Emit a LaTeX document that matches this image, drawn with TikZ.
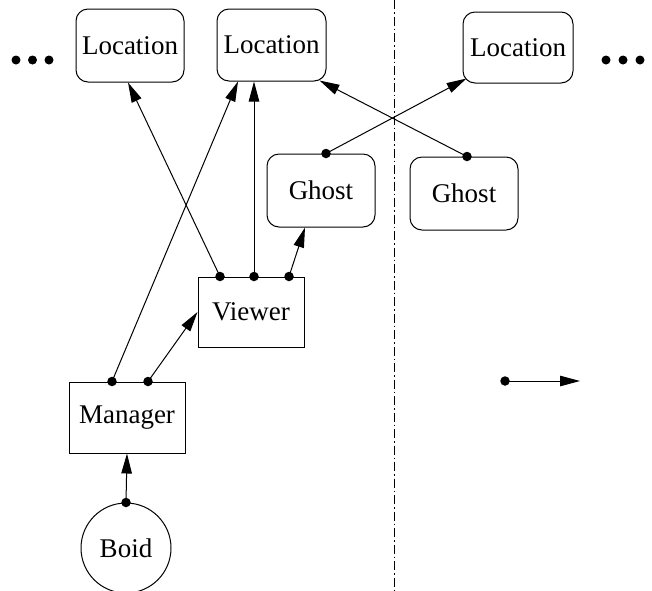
\documentclass[tikz,border=0pt]{standalone}
\usepackage{fontspec}
\setmainfont{Liberation Serif}
\usetikzlibrary{arrows.meta}
\begin{document}
\begin{tikzpicture}[x=1pt,y=-1pt,
  lbl/.style={font=\fontsize{27}{31}\selectfont},
  rbox/.style={draw, line width=1pt, rounded corners=12pt, inner sep=0pt, lbl},
  sbox/.style={draw, line width=1pt, inner sep=0pt, lbl},
  conn/.style={line width=1pt, -{Triangle[length=20pt,width=10.5pt]}},
  pin/.style={circle, fill, inner sep=0pt, minimum size=9.5pt},
  ell/.style={circle, fill, inner sep=0pt, minimum size=9pt}]
\useasboundingbox (0,0) rectangle (652,590);

% nodes
\node[rbox, minimum width=108pt, minimum height=73pt] (loc1) at (130,45.5) {Location};
\node[rbox, minimum width=109pt, minimum height=72pt] (loc2) at (271.5,45) {Location};
\node[rbox, minimum width=110pt, minimum height=71pt] (loc3) at (518,47.5) {Location};
\node[rbox, minimum width=108pt, minimum height=73pt] (gh1) at (321,190.5) {Ghost};
\node[rbox, minimum width=108pt, minimum height=73pt] (gh2) at (464,193.5) {Ghost};
\node[sbox, minimum width=106pt, minimum height=70pt] (view) at (251,312) {Viewer};
\node[sbox, minimum width=116pt, minimum height=71pt] (man) at (127,417.5) {Manager};
\node[draw, circle, line width=1pt, inner sep=0pt, minimum size=90pt, lbl] (boid) at (126,548) {Boid};

% ellipsis dots
\node[ell] (dl1) at (16,60) {};
\node[ell] (dl2) at (32.5,60) {};
\node[ell] (dl3) at (49,60) {};
\node[ell] (dr1) at (606,60) {};
\node[ell] (dr2) at (623,60) {};
\node[ell] (dr3) at (640,60) {};

% divider
\draw[line width=0.8pt, dash pattern=on 9pt off 3pt on 1.5pt off 3pt] (394,0) -- (394,590);

% connector start points
\node[pin] (v1) at ([xshift=-31pt]view.north) {};
\node[pin] (v2) at ([xshift=3pt]view.north) {};
\node[pin] (v3) at ([xshift=38pt]view.north) {};
\node[pin] (m1) at ([xshift=-15pt]man.north) {};
\node[pin] (m2) at ([xshift=21pt]man.north) {};
\node[pin] (g1) at ([xshift=5pt]gh1.north) {};
\node[pin] (g2) at ([xshift=3pt]gh2.north) {};
\node[pin] (b1) at (boid.north) {};
\node[pin] (la) at (505,381) {};
\coordinate (lb) at (580,381);

% connectors
\draw[conn] (v1.center) -- ([xshift=-2pt]loc1.south);
\draw[conn] (v2.center) -- ([xshift=-17.5pt]loc2.south);
\draw[conn] (v3.center) -- ([xshift=-16pt]gh1.south);
\draw[conn] (m1.center) -- ([xshift=-33.5pt]loc2.south);
\draw[conn] (m2.center) -- (view.west);
\draw[conn] (g1.center) -- ([shift={(4pt,5pt)}]loc3.south west);
\draw[conn] (g2.center) -- ([shift={(-7pt,1pt)}]loc2.south east);
\draw[conn] (b1.center) -- (man.south);
\draw[conn] (la.center) -- (lb);
\end{tikzpicture}
\end{document}
